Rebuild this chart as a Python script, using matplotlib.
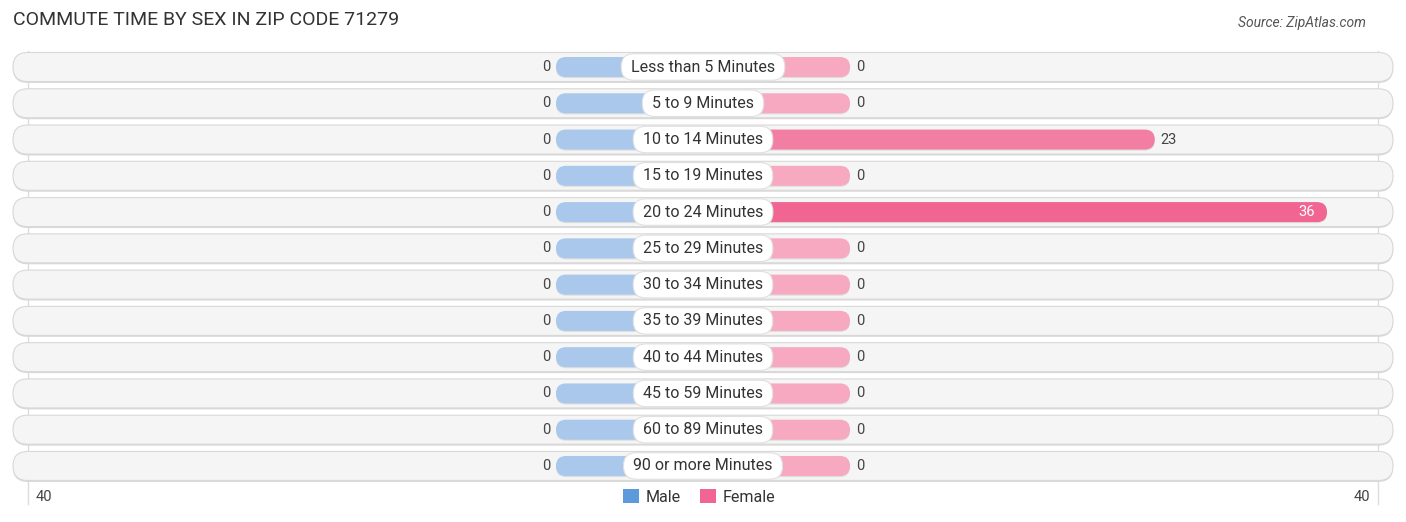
import matplotlib
matplotlib.use("Agg")
import matplotlib.pyplot as plt
from matplotlib.patches import FancyBboxPatch, Patch
import matplotlib.colors as mcolors
import numpy as np

plt.rcParams['font.family'] = ['Roboto', 'DejaVu Sans']

# ---- data ----
categories = ["Less than 5 Minutes", "5 to 9 Minutes", "10 to 14 Minutes", "15 to 19 Minutes",
              "20 to 24 Minutes", "25 to 29 Minutes", "30 to 34 Minutes", "35 to 39 Minutes",
              "40 to 44 Minutes", "45 to 59 Minutes", "60 to 89 Minutes", "90 or more Minutes"]
male_values = [0, 0, 0, 0, 0, 0, 0, 0, 0, 0, 0, 0]
female_values = [0, 0, 23, 0, 36, 0, 0, 0, 0, 0, 0, 0]
axis_max = 40
tick_labels = ["40", "40"]
title = "COMMUTE TIME BY SEX IN ZIP CODE 71279"
source = "Source: ZipAtlas.com"

# ---- layout constants (pixels) ----
W, H = 1406, 522
CX = 703.0          # centre pixel
PX_X = 13.25        # px per value unit
ROW_PX = 36.27      # px per row
ROW0 = 67.0         # pixel y of first row centre
STUB = 147.0 / PX_X  # minimum bar length (value units)
GRID_PX = 675.0
BAR_H_PX = 20
BG_H_PX = 29
BG_HALF_PX = 690

male_light = np.array(mcolors.to_rgb('#a9c8eb'))
male_dark = np.array(mcolors.to_rgb('#5b9bdc'))
fem_light = np.array(mcolors.to_rgb('#f7a9c1'))
fem_dark = np.array(mcolors.to_rgb('#f06592'))
vmax = max(max(female_values), max(male_values), 1)

fig = plt.figure(figsize=(W / 100, H / 100), dpi=100)
ax = fig.add_axes([0, 0, 1, 1])
ax.set_xlim(-CX / PX_X, (W - CX) / PX_X)
ax.set_ylim((H - ROW0) / ROW_PX, -ROW0 / ROW_PX)
ax.axis('off')

ma = PX_X / ROW_PX


def pill(x0, x1, yc, h_px, **kw):
    h = h_px / ROW_PX
    p = FancyBboxPatch((x0, yc - h / 2), x1 - x0, h,
                       boxstyle=f"round,pad=0,rounding_size={h_px / PX_X / 2}",
                       mutation_aspect=ma, **kw)
    ax.add_patch(p)
    return p


n = len(categories)
grid_x = GRID_PX / PX_X
# gridlines
for gx in (-grid_x, grid_x):
    ax.plot([gx, gx], [-0.45, n + 0.05], color='#dcdcdc', lw=1, zorder=0.5)

for i, (cat, m, f) in enumerate(zip(categories, male_values, female_values)):
    # row background with faint shadow
    half = BG_HALF_PX / PX_X
    pill(-half, half, i + 0.04, BG_H_PX, facecolor='#d9d9d9', edgecolor='none', zorder=1)
    pill(-half, half, i, BG_H_PX, facecolor='#f5f5f5', edgecolor='#d8d8d8', lw=0.8, zorder=1.1)

    mcol = male_light + (male_dark - male_light) * (m / vmax) * 0.6
    fcol = fem_light + (fem_dark - fem_light) * (f / vmax)
    # bar shadows
    pill(-(STUB + m), 0, i + 0.03, BAR_H_PX, facecolor='#d0d0d0', edgecolor='none', zorder=1.5, alpha=0.6)
    pill(0, STUB + f, i + 0.03, BAR_H_PX, facecolor='#d0d0d0', edgecolor='none', zorder=1.5, alpha=0.6)
    pill(-(STUB + m), 0, i, BAR_H_PX, facecolor=mcol, edgecolor='none', zorder=2)
    pill(0, STUB + f, i, BAR_H_PX, facecolor=fcol, edgecolor='none', zorder=2)

    # value labels
    ax.annotate(f"{m}", (-(STUB + m), i), xytext=(-6, 0), textcoords='offset pixels',
                ha='right', va='center', fontsize=10.5, color='#444444', zorder=4)
    if f > 30:
        ax.annotate(f"{f}", (STUB + f, i), xytext=(-12, 0), textcoords='offset pixels',
                    ha='right', va='center', fontsize=10.5, color='white', zorder=4)
    else:
        ax.annotate(f"{f}", (STUB + f, i), xytext=(6, 0), textcoords='offset pixels',
                    ha='left', va='center', fontsize=10.5, color='#444444', zorder=4)

    # category label
    ax.text(0, i, " " + cat + " ", ha='center', va='center', fontsize=11.5, color='#333333',
            zorder=5,
            bbox=dict(boxstyle="round,pad=0.36,rounding_size=0.8", facecolor='white',
                      edgecolor='#e0e0e0', lw=0.8))

# axis tick labels
ytick = (497 - ROW0) / ROW_PX
ax.annotate(tick_labels[0], (-grid_x, ytick), xytext=(8, 0), textcoords='offset pixels',
            ha='left', va='center', fontsize=10.5, color='#444444')
ax.annotate(tick_labels[1], (grid_x, ytick), xytext=(-8, 0), textcoords='offset pixels',
            ha='right', va='center', fontsize=10.5, color='#444444')

# legend
handles = [Patch(facecolor='#5b9bdc', label='Male'), Patch(facecolor='#f06592', label='Female')]
ax.legend(handles=handles, loc='center', bbox_to_anchor=((CX - 4) / W, 1 - 497 / H), ncol=2,
          frameon=False, fontsize=11.5, handlelength=1.0, handleheight=1.0,
          handletextpad=0.4, columnspacing=1.2, labelcolor='#333333')

fig.text(13 / W, 1 - 20 / H, title, ha='left', va='center', fontsize=14, color='#333333')
fig.text(1 - 40 / W, 1 - 23 / H, source, ha='right', va='center', fontsize=10,
         color='#555555', style='italic')

fig.savefig("out.png", dpi=100)
